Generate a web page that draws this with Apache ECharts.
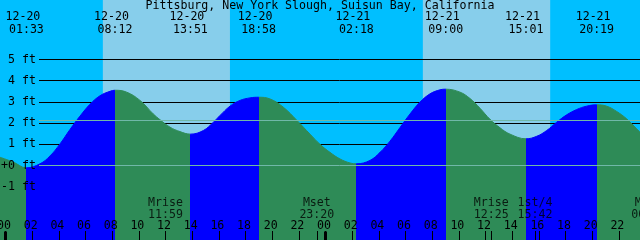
<!DOCTYPE html>
<html><head><meta charset="utf-8">
<script src="https://cdn.jsdelivr.net/npm/echarts@6/dist/echarts.min.js"></script>
<style>html,body{margin:0;padding:0;background:#00BFFF}#c{width:640px;height:240px}</style>
</head><body><div id="c"></div>
<script>
const chartTitle = 'Pittsburg, New York Slough, Suisun Bay, California';
// hours since 12-20 00:00
const tideHours = [-0.43,0.57,1.55,2.57,3.32,4.07,4.82,5.57,6.32,7.07,7.82,8.2,9.07,10.07,11.07,11.57,12.32,13.07,13.85,14.82,15.57,16.07,16.82,17.57,18.32,18.97,19.82,20.82,21.82,22.82,23.57,24.32,25.07,25.82,26.3,27.32,28.07,28.82,29.57,30.32,31.07,31.82,32.57,33.0,34.07,34.82,35.57,36.32,37.07,37.82,39.02,39.83,40.57,41.32,42.07,42.82,43.57,44.32,45.07,45.82,46.57,47.32,47.57];
const tideFeet = [0.39,0.16,-0.11,0.08,0.45,1.02,1.70,2.33,2.89,3.29,3.50,3.55,3.46,3.07,2.43,2.16,1.81,1.60,1.48,1.65,2.04,2.36,2.80,3.07,3.19,3.22,3.14,2.75,2.14,1.48,1.00,0.62,0.31,0.12,0.08,0.24,0.62,1.15,1.79,2.43,2.99,3.38,3.57,3.60,3.46,3.16,2.70,2.18,1.78,1.48,1.26,1.38,1.65,2.04,2.39,2.64,2.80,2.86,2.80,2.55,2.20,1.73,1.57];
const extremeDates = ['12-20','12-20','12-20','12-20','12-21','12-21','12-21','12-21'];
const extremeTimes = ['01:33','08:12','13:51','18:58','02:18','09:00','15:01','20:19'];
const extremeKinds = ['L','H','L','H','L','H','L','H'];
const sunriseTimes = ['12-20 07:17','12-21 07:17'];
const sunsetTimes = ['12-20 16:49','12-21 16:50'];
const moonNames = ['Mrise','Mset','Mrise','1st/4','Mset'];
const moonDates = ['12-20','12-20','12-21','12-21','12-22'];
const moonTimes = ['11:59','23:20','12:25','15:42','00:13'];
const hourTicks = [0,2,4,6,8,10,12,14,16,18,20,22,24,26,28,30,32,34,36,38,40,42,44,46,48];
const midnightTicks = [0,24];
const feetTicks = [-1,0,1,2,3,4,5];
const gridLineFeet = [1,2,3,4,5];
const datumLineFeet = [0,2.12];

const xMin = -0.43, xMax = 47.57;
const yMin = -3.514, yMax = 7.807;
const FONT = 'DejaVu Sans Mono';
const FS = 11.6;
const RISING = '#0000FF', FALLING = '#2E8B57';

function toHour(date, time) {
  const day = parseInt(date.split('-')[1], 10) - 20;
  const [hh, mm] = time.split(':').map(Number);
  return day * 24 + hh + mm / 60;
}
const extremeHours = extremeDates.map((d, i) => toHour(d, extremeTimes[i]));
const moonHours = moonDates.map((d, i) => toHour(d, moonTimes[i]));
const bandData = sunriseTimes.map((s, i) => {
  const a = s.split(' '), b = sunsetTimes[i].split(' ');
  return [{xAxis: toHour(a[0], a[1])}, {xAxis: toHour(b[0], b[1])}];
});
const tideData = tideHours.map((h, i) => [h, tideFeet[i]]);

const pieces = [];
extremeHours.forEach((h, i) => {
  if (i === 0) pieces.push({lt: h, color: extremeKinds[0] === 'L' ? FALLING : RISING});
  const next = extremeHours[i + 1];
  const col = extremeKinds[i] === 'L' ? RISING : FALLING;
  if (next !== undefined) pieces.push({gte: h, lt: next, color: col});
  else pieces.push({gte: h, color: col});
});

function xAx(extra) {
  return Object.assign({
    type: 'value', gridIndex: 0, min: xMin, max: xMax, position: 'bottom', z: 10,
    axisLine: {show: false, onZero: false}, splitLine: {show: false},
    axisTick: {show: false}, axisLabel: {show: false}
  }, extra);
}

const option = {
  animation: false,
  backgroundColor: '#00BFFF',
  title: {
    text: chartTitle, left: 'center', top: -0.5, padding: 0, z: 10,
    textStyle: {fontFamily: FONT, fontSize: FS, fontWeight: 'normal', color: '#000', lineHeight: 12}
  },
  grid: [
    {left: 0, right: 0, top: 0, bottom: 0, containLabel: false, outerBoundsMode: 'none'},
    {left: 39, right: 0, top: 0, bottom: 0, containLabel: false, outerBoundsMode: 'none'}
  ],
  xAxis: [
    xAx({
      axisTick: {show: true, inside: true, length: 9, customValues: hourTicks, lineStyle: {color: '#000', width: 1}},
      axisLabel: {show: true, inside: true, margin: 8, customValues: hourTicks, color: '#000',
        fontFamily: FONT, fontSize: FS, lineHeight: 12, padding: [0, 3.4, 0, 0],
        formatter: v => String(((v % 24) + 24) % 24).padStart(2, '0')}
    }),
    xAx({
      axisTick: {show: true, inside: true, length: 8.5, customValues: midnightTicks, lineStyle: {color: '#000', width: 3}}
    }),
    xAx({
      axisTick: {show: true, inside: true, length: 9, customValues: moonHours.filter(h => h >= xMin && h <= xMax), lineStyle: {color: '#000', width: 1}}
    }),
    xAx({
      position: 'top',
      axisLabel: {show: true, inside: true, margin: 10.5, customValues: extremeHours, color: '#000',
        fontFamily: FONT, fontSize: FS,
        formatter: v => {
          const i = extremeHours.findIndex(h => Math.abs(h - v) < 1e-6);
          return '{d|' + extremeDates[i] + '}\n{t|' + extremeTimes[i] + '}';
        },
        rich: {
          d: {fontFamily: FONT, fontSize: FS, color: '#000', lineHeight: 13, padding: [0, 7, 0, 0]},
          t: {fontFamily: FONT, fontSize: FS, color: '#000', lineHeight: 13}
        }
      }
    }),
    {type: 'value', gridIndex: 1, min: xMin, max: xMax, show: false}
  ],
  yAxis: [
    {type: 'value', gridIndex: 0, min: yMin, max: yMax, z: 10,
      axisLine: {show: false}, splitLine: {show: false}, axisTick: {show: false},
      axisLabel: {show: true, inside: true, align: 'right', margin: 36, customValues: feetTicks,
        color: '#000', fontFamily: FONT, fontSize: FS,
        formatter: v => (v === 0 ? '+0' : String(v)) + ' ft'}
    },
    {type: 'value', gridIndex: 1, min: yMin, max: yMax, show: false},
    {type: 'value', gridIndex: 0, min: 0, max: 1, show: false}
  ],
  visualMap: {
    type: 'piecewise', show: false, dimension: 0, seriesIndex: 2, pieces: pieces
  },
  series: [
    {
      name: 'day', type: 'line', xAxisIndex: 0, yAxisIndex: 0, data: tideData,
      showSymbol: false, symbol: 'none', lineStyle: {opacity: 0}, silent: true,
      markArea: {silent: true, z: 1, itemStyle: {color: '#87CEEB', borderWidth: 0}, label: {show: false}, data: bandData}
    },
    {
      name: 'grid', type: 'line', xAxisIndex: 4, yAxisIndex: 1, data: tideData,
      showSymbol: false, symbol: 'none', lineStyle: {opacity: 0}, silent: true,
      markLine: {silent: true, z: 2, symbol: 'none', label: {show: false},
        lineStyle: {color: '#000', width: 1, type: 'solid'},
        emphasis: {disabled: true},
        data: gridLineFeet.map(v => ({yAxis: v}))}
    },
    {
      name: 'tide', type: 'line', xAxisIndex: 0, yAxisIndex: 0, z: 3, data: tideData,
      smooth: 0.4, showSymbol: false, symbol: 'none', silent: true,
      lineStyle: {width: 1},
      areaStyle: {opacity: 1, origin: 'start'}
    },
    {
      name: 'datum', type: 'line', xAxisIndex: 4, yAxisIndex: 1, data: tideData,
      showSymbol: false, symbol: 'none', lineStyle: {opacity: 0}, silent: true,
      markLine: {silent: true, z: 4, symbol: 'none', label: {show: false},
        lineStyle: {color: '#70B8A8', width: 1, type: 'solid'},
        emphasis: {disabled: true},
        data: datumLineFeet.map(v => ({yAxis: v}))}
    },
    {
      name: 'moon', type: 'scatter', xAxisIndex: 0, yAxisIndex: 2, z: 5, clip: false, silent: true,
      symbolSize: 0,
      data: moonHours.map((h, i) => ({value: [h, 0], name: moonNames[i]})),
      label: {show: true, position: 'top', distance: 19.5, color: '#000', fontFamily: FONT, fontSize: FS,
        lineHeight: 12, align: 'center',
        formatter: p => p.name + '\n' + moonTimes[p.dataIndex]}
    }
  ]
};
const chart = echarts.init(document.getElementById('c'), null, {renderer: 'canvas'});
chart.setOption(option);
</script></body></html>
